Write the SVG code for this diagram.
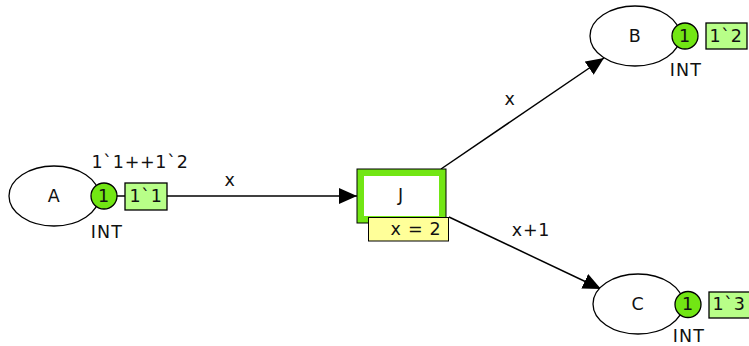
<svg xmlns="http://www.w3.org/2000/svg" width="749" height="346" viewBox="0 0 749 346">
<defs>
<style>
text{font-family:"DejaVu Sans",Verdana,sans-serif;font-size:17.5px;letter-spacing:.7px;fill:#111;text-anchor:middle}
.i{letter-spacing:1.2px}
.p{fill:#fff;stroke:#000;stroke-width:1.3}
.t{fill:#72e614;stroke:#000;stroke-width:1.3}
.m{fill:#b8ff88;stroke:#000;stroke-width:1.3}
.c{fill:none;stroke:#000;stroke-width:1.5}
</style>
<marker id="ah" markerUnits="userSpaceOnUse" markerWidth="20" markerHeight="18" refX="18" refY="8" orient="auto"><path d="M0 0L18 8L0 16Z" fill="#000"/></marker>
</defs>
<g id="connectors">
<path class="c" d="M167 196H357" marker-end="url(#ah)"/>
<path class="c" d="M441 169L604 58" marker-end="url(#ah)"/>
<path class="c" d="M449 217L601 289" marker-end="url(#ah)"/>
<text x="230" y="186">x</text>
<text x="510" y="105">x</text>
<text x="531" y="236">x+1</text>
</g>
<g id="A">
<ellipse class="p" cx="54" cy="196" rx="45" ry="30"/><text x="54" y="202">A</text>
<text x="140" y="168">1`1++1`2</text><text class="i" x="107" y="238">INT</text>
<path class="c" d="M117 196H125"/>
<circle class="t" cx="104" cy="196" r="13"/><text x="104" y="202">1</text>
<rect class="m" x="125" y="183" width="42" height="27"/><text x="146" y="202">1`1</text>
</g>
<g id="B">
<ellipse class="p" cx="635" cy="36" rx="45" ry="30"/><text x="635" y="42">B</text>
<text class="i" x="686" y="76">INT</text>
<circle class="t" cx="685" cy="36" r="13"/><text x="685" y="42">1</text>
<rect class="m" x="706" y="23" width="41" height="26"/><text x="726" y="42">1`2</text>
</g>
<g id="C">
<ellipse class="p" cx="638" cy="304" rx="45" ry="30"/><text x="638" y="310">C</text>
<text class="i" x="689" y="342">INT</text>
<circle class="t" cx="688" cy="304.500" r="13"/><text x="688" y="310">1</text>
<rect class="m" x="709" y="292" width="41" height="26"/><text x="729" y="310">1`3</text>
</g>
<g id="J">
<rect x="357" y="169" width="89" height="54" fill="#72e614" stroke="#000" stroke-width="1"/>
<rect x="364" y="176" width="75" height="40" fill="#fff"/>
<text x="401" y="201">J</text>
<rect x="368.500" y="217.500" width="80" height="23.500" fill="#ffff99" stroke="#000" stroke-width="1"/>
<text x="416" y="235">x = 2</text>
</g>
</svg>
